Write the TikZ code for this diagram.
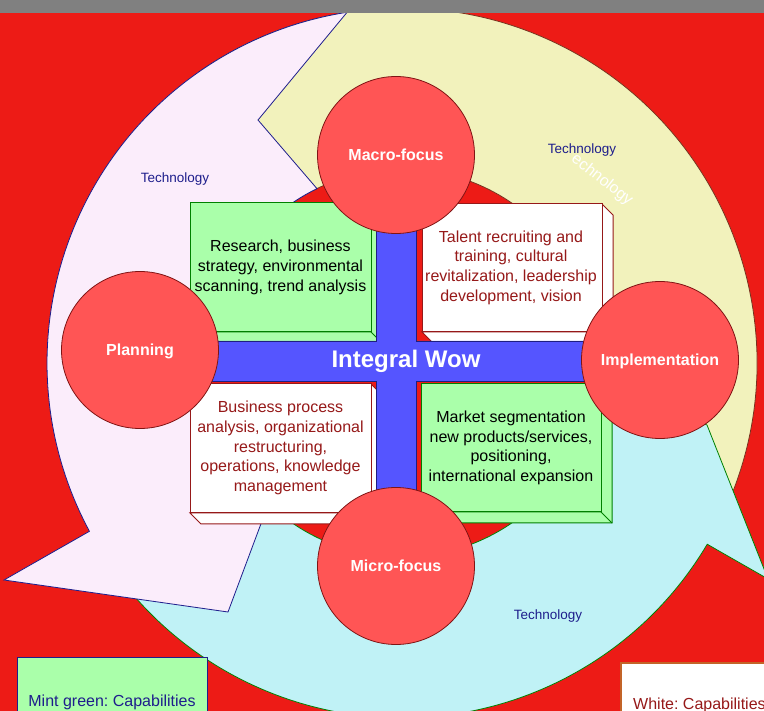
\documentclass[tikz,border=0pt]{standalone}
\usepackage{fontspec}
\setmainfont{Liberation Sans}
\frenchspacing
\definecolor{bgred}{RGB}{237,27,22}
\definecolor{pinkf}{RGB}{251,237,251}
\definecolor{yellowf}{RGB}{242,242,188}
\definecolor{cyanf}{RGB}{192,242,246}
\definecolor{circf}{RGB}{255,85,85}
\definecolor{circd}{RGB}{128,20,20}
\definecolor{mint}{RGB}{170,255,170}
\definecolor{mintd}{RGB}{0,128,0}
\definecolor{crossf}{RGB}{85,85,255}
\definecolor{crossd}{RGB}{30,30,130}
\definecolor{navyt}{RGB}{30,30,140}
\definecolor{dred}{RGB}{150,25,25}
\definecolor{ystroke}{RGB}{120,50,30}
\definecolor{gbar}{RGB}{128,128,128}
\definecolor{legor}{RGB}{195,100,40}
\newcommand\tdbox[6]{%
  \filldraw[fill=#5,draw=#6,line width=1pt,line join=miter] (#3,-#2) -- ++(11,-11) -- (#3+11,-#4-11) -- (#1+11,-#4-11) -- (#1,-#4) -- (#3,-#4) -- cycle;
  \draw[#6,line width=1pt] (#3,-#4) -- ++(11,-11);
  \filldraw[fill=#5,draw=#6,line width=1pt] (#1,-#2) rectangle (#3,-#4);}
\tikzset{
  ringline/.style={line width=0.8pt,line join=miter},
  circ/.style={circle,minimum size=157pt,inner sep=0pt,fill=circf,draw=circd,line width=0.8pt,
     text=white,font=\bfseries\fontsize{16}{19}\selectfont,text height=11.5pt,text depth=0pt},
  boxtxt/.style={align=center,inner sep=0pt,font=\fontsize{16}{19.7}\selectfont},
  techlbl/.style={text=navyt,inner sep=0pt,anchor=base,font=\fontsize{13.5}{16}\selectfont},
  legtxt/.style={inner sep=0pt,anchor=base,font=\fontsize{16}{19}\selectfont}
}
\begin{document}
\begin{tikzpicture}[x=1pt,y=1pt]
\useasboundingbox (0,0) rectangle (764,-711);
\clip (0,0) rectangle (764,-711);
\fill[bgred] (0,0) rectangle (764,-711);
% ring of three arrows
\begin{scope}[shift={(402,-363)}]
  \filldraw[ringline,fill=yellowf,draw=ystroke] (-25:355) arc[start angle=-25,end angle=125,radius=355]
     -- (140:194) arc[start angle=140,end angle=-20,radius=194] -- cycle;
  \filldraw[ringline,fill=cyanf,draw=mintd] (216:355) -- (227:194) arc[start angle=227,end angle=355,radius=194]
     -- (305,-62) -- (366,-216) -- (-30.7:355) arc[start angle=-30.7,end angle=-144,radius=355] -- cycle;
  \filldraw[ringline,fill=pinkf,draw=navyt] (98.9:355) -- (-144,243) -- (116:194)
     arc[start angle=116,end angle=226.5,radius=194] -- (-174,-249) -- (-398,-217) -- (208.3:355)
     arc[start angle=208.3,end angle=98.9,radius=355] -- cycle;
\end{scope}
\node[text=white,rotate=-38,inner sep=0pt,font=\fontsize{16}{19}\selectfont] (techw) at (602,-180) {echnology};
\node[techlbl] (tech1) at (175,-183) {Technology};
\node[techlbl] (tech2) at (582,-153.5) {Technology};
\node[techlbl] (tech3) at (548,-619) {Technology};
% quadrant boxes
\tdbox{190}{203}{371}{332}{mint}{mintd}
\tdbox{422}{204}{602}{332}{white}{dred}
\tdbox{190}{384}{371}{513}{white}{dred}
\tdbox{421}{384}{601}{512}{mint}{mintd}
\node[boxtxt,text=black] (research) at (280.5,-267.5) {Research, business\\strategy, environmental\\scanning, trend analysis};
\node[boxtxt,text=dred] (talent) at (511,-267.5) {Talent recruiting and\\training, cultural\\revitalization, leadership\\development, vision};
\node[boxtxt,text=dred] (business) at (280.5,-448) {Business process\\analysis, organizational\\restructuring,\\operations, knowledge\\management};
\node[boxtxt,text=black] (market) at (511,-448) {Market segmentation\\new products/services,\\positioning,\\international expansion};
% blue cross
\filldraw[fill=crossf,draw=crossd,line width=0.8pt,line join=miter] (200,-341) -- (376,-341) -- (376,-220) -- (416,-220) -- (416,-341)
  -- (600,-341) -- (600,-381) -- (416,-381) -- (416,-500) -- (376,-500) -- (376,-381) -- (200,-381) -- cycle;
\node[text=white,inner sep=0pt,font=\bfseries\fontsize{24}{28}\selectfont,text height=17.2pt,text depth=0pt] (wow) at (406,-358.5) {Integral Wow};
% circles
\node[circ] (macro) at (396,-155) {Macro-focus};
\node[circ] (planning) at (140,-350) {Planning};
\node[circ] (impl) at (660,-360) {Implementation};
\node[circ] (micro) at (396,-566) {Micro-focus};
% legend
\filldraw[fill=mint,draw=navyt,line width=1pt] (17,-657) rectangle (207,-720);
\node[legtxt,text=navyt] (legmint) at (112,-706) {Mint green: Capabilities};
\filldraw[fill=white,draw=legor,line width=1.5pt] (621,-663) rectangle (800,-720);
\node[legtxt,text=dred,anchor=base west] (legwhite) at (633,-709.5) {White: Capabilities};
% top bar
\fill[gbar] (0,0) rectangle (764,-13);
\end{tikzpicture}
\end{document}
